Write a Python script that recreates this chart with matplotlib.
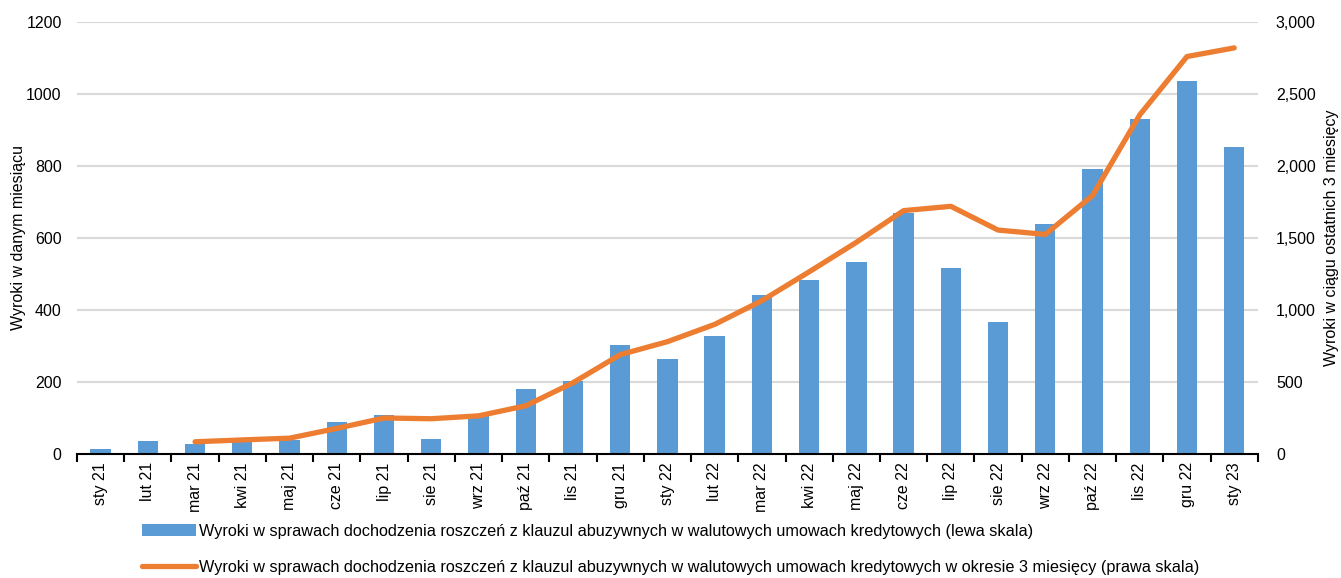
import matplotlib.pyplot as plt
import numpy as np
from matplotlib.ticker import FuncFormatter, MultipleLocator

plt.rcParams['font.family'] = ['Liberation Sans Narrow', 'Liberation Sans', 'DejaVu Sans']

# dane
miesiace = ['sty 21', 'lut 21', 'mar 21', 'kwi 21', 'maj 21', 'cze 21', 'lip 21', 'sie 21',
            'wrz 21', 'paź 21', 'lis 21', 'gru 21', 'sty 22', 'lut 22', 'mar 22', 'kwi 22',
            'maj 22', 'cze 22', 'lip 22', 'sie 22', 'wrz 22', 'paź 22', 'lis 22', 'gru 22', 'sty 23']
wyroki_miesiac = [15, 36, 28, 34, 40, 90, 109, 41, 106, 180, 202, 302, 264, 328, 442, 483,
                  534, 669, 517, 367, 639, 792, 931, 1036, 853]
wyroki_3m = [None, None, 85, 98, 110, 178, 250, 245, 265, 335, 495, 690, 780, 900, 1065, 1265,
             1470, 1690, 1720, 1555, 1525, 1795, 2355, 2760, 2820]

etykieta_slupki = 'Wyroki w sprawach dochodzenia roszczeń z klauzul abuzywnych w walutowych umowach kredytowych (lewa skala)'
etykieta_linia = 'Wyroki w sprawach dochodzenia roszczeń z klauzul abuzywnych w walutowych umowach kredytowych w okresie 3 miesięcy (prawa skala)'

x = np.arange(len(miesiace))
y3 = np.array([np.nan if v is None else v for v in wyroki_3m], dtype=float)

fig = plt.figure(figsize=(13.41, 5.78), dpi=100)
ax = fig.add_axes([0.0574, 0.2145, 0.8806, 0.7475])
ax2 = ax.twinx()

bary = ax.bar(x, wyroki_miesiac, width=0.43, color='#5B9BD5', zorder=2)
linia, = ax2.plot(x, y3, color='#ED7D31', lw=3.8, solid_capstyle='round', zorder=3)

ax.set_xlim(-0.5, len(miesiace) - 0.5)
ax.set_ylim(0, 1200)
ax2.set_ylim(0, 3000)
ax.yaxis.set_major_locator(MultipleLocator(200))
ax2.yaxis.set_major_locator(MultipleLocator(500))
ax2.yaxis.set_major_formatter(FuncFormatter(lambda v, p: f'{int(v):,}'))

ax.grid(axis='y', color='#D9D9D9', lw=1.5, zorder=0)
ax.set_axisbelow(True)

for a in (ax, ax2):
    for s in ('top', 'left', 'right'):
        a.spines[s].set_visible(False)
    a.tick_params(axis='y', length=0, labelsize=11.5)
ax.tick_params(axis='y', pad=11)
ax2.tick_params(axis='y', pad=13)
ax2.spines['bottom'].set_visible(False)
ax.spines['bottom'].set_linewidth(1.5)

ax.set_xticks(x)
ax.set_xticklabels(miesiace, rotation=90, fontsize=11.5)
ax.set_xticks(np.arange(-0.5, len(miesiace)), minor=True)
ax.tick_params(axis='x', which='major', length=0, pad=6)
ax.tick_params(axis='x', which='minor', length=6, width=1.5, direction='out')

ax.set_ylabel('Wyroki w danym miesiącu', fontsize=11.5, labelpad=0)
ax2.set_ylabel('Wyroki w ciągu ostatnich 3 miesięcy', fontsize=11.5, labelpad=6)

fig.legend([bary, linia], [etykieta_slupki, etykieta_linia], loc='upper left',
           bbox_to_anchor=(0.1, 0.108), frameon=False, fontsize=11.7,
           handlelength=3.3, handletextpad=0.2, labelspacing=1.3, borderpad=0)

fig.savefig('out.png', dpi=100)
